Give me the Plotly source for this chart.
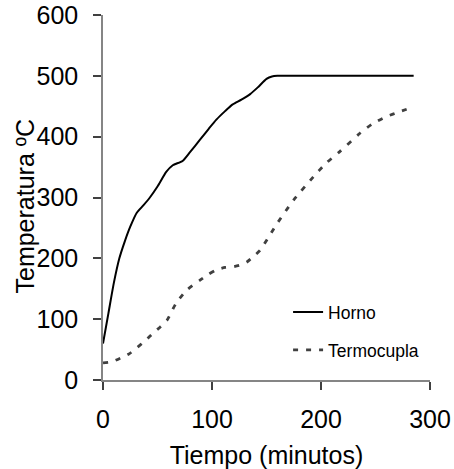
import plotly.graph_objects as go

# Horno (oven) temperature
horno_t = [0, 5, 10, 15, 20, 25, 31, 37, 43, 50, 58, 64, 73, 80, 89, 97, 104, 112, 119, 127, 135, 142, 150, 155, 160, 170, 200, 240, 285]
horno_T = [60, 110, 160, 200, 228, 252, 275, 287, 300, 318, 342, 353, 360, 375, 395, 413, 428, 442, 453, 461, 470, 481, 495, 499, 500, 500, 500, 500, 500]

# Termocupla (thermocouple) temperature
termo_t = [0, 8, 16, 24, 31, 39, 46, 53, 59, 67, 77, 89, 97, 104, 112, 119, 126, 132, 138, 144, 153, 160, 175, 193, 205, 217, 236, 248, 260, 272, 285]
termo_T = [28, 30, 36, 43, 53, 65, 77, 88, 99, 126, 148, 164, 174, 181, 185, 186, 189, 194, 203, 213, 238, 258, 296, 334, 357, 375, 406, 422, 433, 441, 449]

x_ticks = [0, 100, 200, 300]
y_ticks = [0, 100, 200, 300, 400, 500, 600]

FONT = "Liberation Sans, Arial, sans-serif"

fig = go.Figure()
fig.add_trace(go.Scatter(
    x=horno_t, y=horno_T, mode="lines", name="Horno",
    line=dict(color="black", width=2, shape="spline", smoothing=0.6),
    legendgroup="a",
))
fig.add_trace(go.Scatter(
    x=termo_t, y=termo_T, mode="lines", name="Termocupla",
    line=dict(color="#404040", width=2.8, dash="5px,8px", shape="spline", smoothing=0.6),
    legendgroup="b",
))

fig.update_layout(
    width=454, height=469,
    margin=dict(l=103, r=24, t=15, b=89),
    paper_bgcolor="white", plot_bgcolor="white",
    font=dict(family=FONT, size=25, color="black"),
    showlegend=True,
    legend=dict(
        x=0.566, y=0.235, xanchor="left", yanchor="top",
        font=dict(family=FONT, size=17.5, color="black"),
        bgcolor="rgba(0,0,0,0)", tracegroupgap=12,
        traceorder="grouped",
    ),
    xaxis=dict(
        range=[0, 300], tickvals=x_ticks, showgrid=False, zeroline=False,
        showline=True, linecolor="#858585", linewidth=1.5,
        ticks="outside", ticklen=8, tickcolor="#404040", tickwidth=1.5,
        ticklabelstandoff=8, automargin=False,
        title=dict(text="Tiempo (minutos)", font=dict(size=25), standoff=18),
    ),
    yaxis=dict(
        range=[0, 600], tickvals=y_ticks, showgrid=False, zeroline=False,
        showline=True, linecolor="#858585", linewidth=1.5,
        ticks="outside", ticklen=8, tickcolor="#404040", tickwidth=1.5,
        ticklabelstandoff=10, automargin=False,
    ),
    annotations=[dict(
        text="Temperatura ºC", textangle=-90, showarrow=False,
        xref="paper", yref="paper", x=-0.240, y=0.474,
        xanchor="center", yanchor="middle",
        font=dict(family=FONT, size=25, color="black"),
    )],
)

fig.write_html("out.html", config={"displayModeBar": False},
               post_script="document.body.style.margin='0px';")
